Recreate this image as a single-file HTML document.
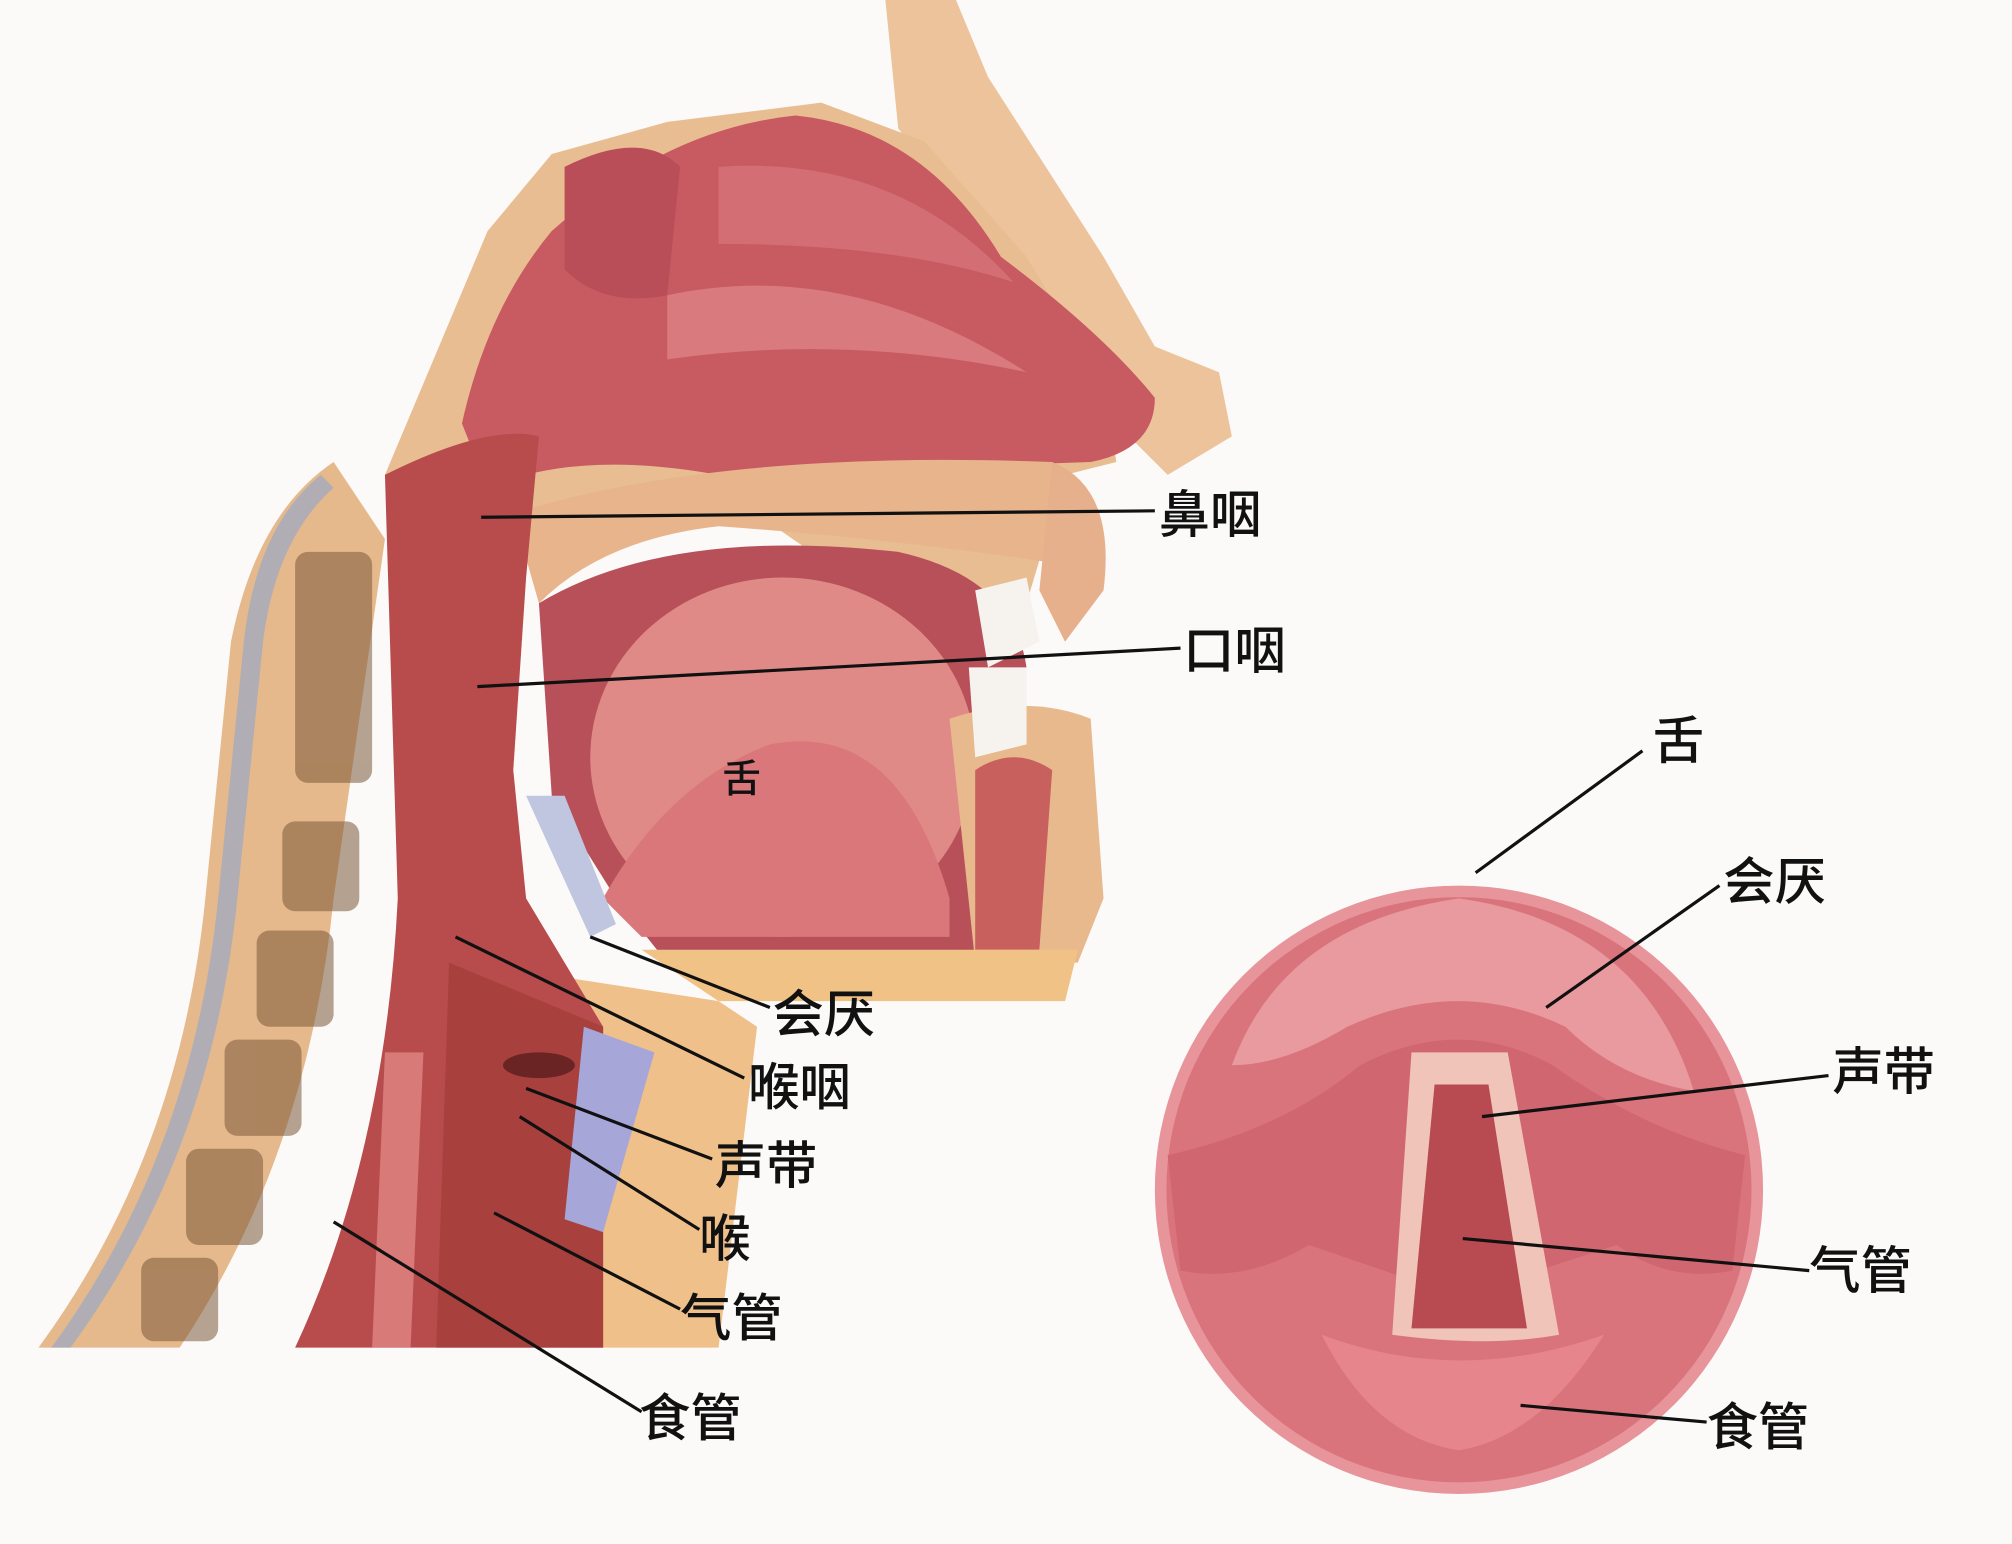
<!DOCTYPE html>
<html><head><meta charset="utf-8">
<style>
html,body{margin:0;padding:0;background:#fbfaf9;}
svg{display:block;}
text{font-family:"Liberation Sans","Noto Sans CJK SC",sans-serif;fill:#111;font-weight:500;}
</style></head>
<body>
<svg width="2012" height="1544" viewBox="0 0 1568 1203" preserveAspectRatio="none" xmlns="http://www.w3.org/2000/svg">
<rect width="1568" height="1203" fill="#fbfaf9"/>
<path d="M690 0 L745 0 L770 60 L860 200 L900 270 L950 290 L960 340 L910 370 L880 340 L800 230 L700 100 Z" fill="#ecc39a"/>
<path d="M380 180 L430 120 L520 95 L640 80 L720 110 L800 200 L860 300 L870 360 L830 370 L800 470 L780 500 L690 470 L560 380 L420 420 L330 380 L300 370 Z" fill="#e9bd92"/>
<path d="M430 180 Q520 100 620 90 Q720 100 780 200 Q860 260 900 310 Q900 350 850 360 L560 370 Q450 350 380 380 L360 330 Q380 240 430 180 Z" fill="#c85a62"/>
<path d="M560 130 Q700 120 790 220 Q700 190 560 190 Z" fill="#d36e74"/>
<path d="M520 230 Q660 200 800 290 Q660 260 520 280 Z" fill="#d87a7e"/>
<path d="M440 130 Q500 100 530 130 L520 230 Q470 240 440 210 Z" fill="#b94e58"/>
<path d="M400 400 Q560 350 820 360 L830 440 Q700 420 560 410 Q470 420 420 470 Z" fill="#e8b48c"/>
<path d="M420 470 Q520 410 700 430 Q790 450 800 520 L780 600 L770 700 L760 750 L520 750 L480 700 L430 620 Z" fill="#b8505a"/>
<ellipse cx="610" cy="590" rx="150" ry="140" fill="#e08a88"/>
<path d="M470 700 Q520 610 600 580 Q700 560 740 700 L740 730 L500 730 Z" fill="#d9777a"/>
<path d="M740 560 Q800 540 850 560 L860 700 L840 750 L760 750 Z" fill="#e9b98e"/>
<path d="M760 600 Q790 580 820 600 L810 740 L760 740 Z" fill="#c8605e"/>
<path d="M500 740 L840 740 L830 780 L560 780 Z" fill="#f0c286"/>
<path d="M760 460 L800 450 L810 500 L770 520 Z" fill="#f6f3ef"/>
<path d="M755 520 L800 520 L800 580 L760 590 Z" fill="#f6f3ef"/>
<path d="M820 360 Q870 380 860 460 L830 500 L810 460 Z" fill="#e7b08c"/>
<path d="M430 760 L560 780 L590 800 L560 1050 L440 1050 Z" fill="#efc08a"/>
<path d="M260 360 Q200 400 180 500 L160 700 Q140 900 30 1050 L140 1050 Q240 900 260 700 L300 420 Z" fill="#e6b98c"/>
<path d="M250 370 Q200 410 190 500 L170 700 Q150 900 40 1050 L55 1050 Q165 900 185 700 L205 500 Q215 420 260 380 Z" fill="#b0aeb4"/>
<g fill="#7b5a3a" opacity="0.55">
<rect x="230" y="430" width="60" height="180" rx="10"/>
<rect x="220" y="640" width="60" height="70" rx="10"/>
<rect x="200" y="725" width="60" height="75" rx="10"/>
<rect x="175" y="810" width="60" height="75" rx="10"/>
<rect x="145" y="895" width="60" height="75" rx="10"/>
<rect x="110" y="980" width="60" height="65" rx="10"/>
</g>
<path d="M300 370 Q380 330 420 340 L410 450 L400 600 L410 700 L470 800 L470 1050 L230 1050 Q300 900 310 700 Z" fill="#b84b4c"/>
<path d="M350 750 L470 800 L470 1050 L340 1050 Z" fill="#a8403e"/>
<ellipse cx="420" cy="830" rx="28" ry="10" fill="#6b2424"/>
<path d="M455 800 L510 820 L470 960 L440 950 Z" fill="#a6a6d8"/>
<path d="M410 620 L440 620 L480 720 L460 730 Z" fill="#c0c6e0"/>
<path d="M300 820 L330 820 L320 1050 L290 1050 Z" fill="#d87a78"/>

<circle cx="1137" cy="927" r="237" fill="#e7959a"/>
<circle cx="1137" cy="927" r="228" fill="#da747c"/>
<path d="M960 830 Q1000 720 1137 700 Q1280 720 1320 850 Q1260 840 1220 800 Q1137 760 1050 800 Q1000 830 960 830 Z" fill="#e99a9e"/>
<path d="M910 900 Q1000 880 1060 830 Q1137 790 1210 830 Q1280 880 1360 900 L1350 990 Q1300 1000 1260 970 L1137 1010 L1020 970 Q970 1000 920 990 Z" fill="#d06670"/>
<path d="M1100 820 L1175 820 L1215 1040 Q1160 1050 1085 1040 Z" fill="#f0c4b8"/>
<path d="M1118 845 L1160 845 L1190 1035 L1100 1035 Z" fill="#b84a52"/>
<path d="M1030 1040 Q1137 1080 1250 1040 Q1200 1120 1137 1130 Q1070 1120 1030 1040 Z" fill="#e6868c"/>

<g stroke="#111" stroke-width="2.5" fill="none">
<line x1="375" y1="403" x2="900" y2="398"/>
<line x1="372" y1="535" x2="920" y2="505"/>
<line x1="460" y1="730" x2="600" y2="785"/>
<line x1="355" y1="730" x2="580" y2="840"/>
<line x1="410" y1="848" x2="555" y2="903"/>
<line x1="405" y1="870" x2="545" y2="958"/>
<line x1="385" y1="945" x2="530" y2="1020"/>
<line x1="260" y1="952" x2="500" y2="1100"/>
<line x1="1150" y1="680" x2="1280" y2="585"/>
<line x1="1205" y1="785" x2="1340" y2="690"/>
<line x1="1155" y1="870" x2="1425" y2="838"/>
<line x1="1140" y1="965" x2="1410" y2="990"/>
<line x1="1185" y1="1095" x2="1330" y2="1108"/>
</g>
<g font-size="40">
<text x="903" y="415">鼻咽</text>
<text x="922" y="521">口咽</text>
<text x="602" y="804">会厌</text>
<text x="583" y="861">喉咽</text>
<text x="557" y="922">声带</text>
<text x="545" y="979">喉</text>
<text x="530" y="1041">气管</text>
<text x="498" y="1119">食管</text>
<text x="1288" y="591">舌</text>
<text x="1343" y="701">会厌</text>
<text x="1428" y="849">声带</text>
<text x="1410" y="1004">气管</text>
<text x="1330" y="1126">食管</text>
</g>
<text x="563" y="617" font-size="30">舌</text>
</svg>
</body></html>
